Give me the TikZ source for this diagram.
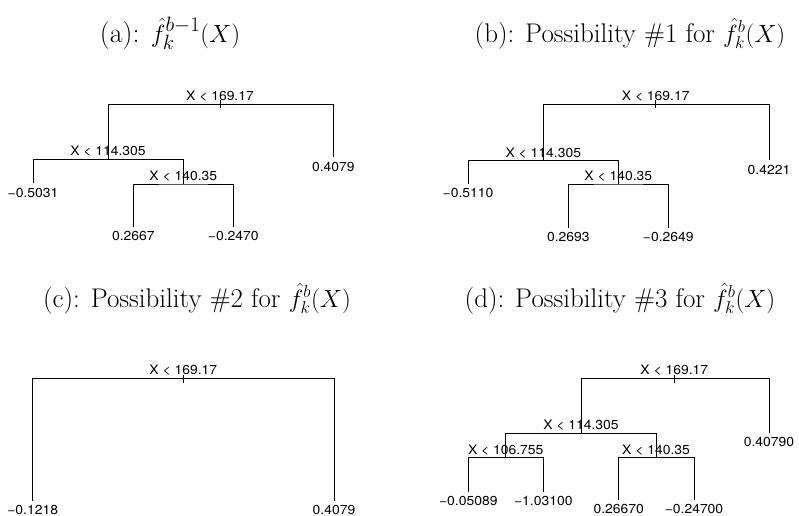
\documentclass[tikz,border=0pt]{standalone}
\usepackage{fontspec}
\newfontfamily\treefont[FakeStretch=1.07]{TeX Gyre Heros}
\begin{document}
\begin{tikzpicture}[x=1pt,y=-1pt,
  edge/.style={line width=0.9pt},
  lbl/.style={font=\treefont\fontsize{13}{15}\selectfont, inner sep=0pt, text height=9pt, text depth=0pt, anchor=center},
  ttl/.style={font=\fontsize{28}{32}\selectfont, inner sep=0pt, anchor=base},
  ttlp/.style={font=\fontsize{27}{31}\selectfont, inner sep=0pt, anchor=base}]
\useasboundingbox (0,0) rectangle (799,515);
% titles
\node[ttl] (ta) at (170,42) {(a): $\hat{f}_k^{b-1}(X)$};
\node[ttlp] (tb) at (630,42) {(b): Possibility \#1 for $\hat{f}_k^{b}(X)$};
\node[ttlp] (tc) at (197,307) {(c): Possibility \#2 for $\hat{f}_k^{b}(X)$};
\node[ttlp] (td) at (620,307) {(d): Possibility \#3 for $\hat{f}_k^{b}(X)$};
% ---------- panel (a)
\coordinate (a0) at (220,104.3);
\coordinate (a1) at (108,159.3);
\coordinate (a2) at (183.3,184);
\coordinate (aL1) at (33,183.3);
\coordinate (aL2) at (133.3,226.7);
\coordinate (aL3) at (233.3,226.7);
\coordinate (aL4) at (333.3,156.7);
\draw[edge] (a1) |- (a0) -| (aL4);
\draw[edge] (aL1) |- (a1) -| (a2);
\draw[edge] (aL2) |- (a2) -| (aL3);
\draw[edge] ([yshift=4pt]a0) -- ([yshift=-4pt]a0);
\node[lbl] (a0t) at ([yshift=8.5pt]a0) {X < 169.17};
\node[lbl] (a1t) at ([yshift=8pt]a1) {X < 114.305};
\node[lbl] (a2t) at ([yshift=8pt]a2) {X < 140.35};
\node[lbl] (aL1t) at ([yshift=-9.5pt]aL1) {−0.5031};
\node[lbl] (aL2t) at ([yshift=-9.5pt]aL2) {0.2667};
\node[lbl] (aL3t) at ([yshift=-9.5pt]aL3) {−0.2470};
\node[lbl] (aL4t) at ([yshift=-10pt]aL4) {0.4079};
% ---------- panel (b)
\coordinate (b0) at (655.7,104.3);
\coordinate (b1) at (543.3,160.7);
\coordinate (b2) at (618.3,184);
\coordinate (bL1) at (468,184);
\coordinate (bL2) at (568.3,227.7);
\coordinate (bL3) at (668.3,227.7);
\coordinate (bL4) at (769,160);
\draw[edge] (b1) |- (b0) -| (bL4);
\draw[edge] (bL1) |- (b1) -| (b2);
\draw[edge] (bL2) |- (b2) -| (bL3);
\draw[edge] ([yshift=4pt]b0) -- ([yshift=-4pt]b0);
\node[lbl] (b0t) at ([yshift=8.5pt]b0) {X < 169.17};
\node[lbl] (b1t) at ([yshift=8pt]b1) {X < 114.305};
\node[lbl] (b2t) at ([yshift=8pt]b2) {X < 140.35};
\node[lbl] (bL1t) at ([yshift=-9pt]bL1) {−0.5110};
\node[lbl] (bL2t) at ([yshift=-9pt]bL2) {0.2693};
\node[lbl] (bL3t) at ([yshift=-9pt]bL3) {−0.2649};
\node[lbl] (bL4t) at ([yshift=-9.5pt]bL4) {0.4221};
% ---------- panel (c)
\coordinate (c0) at (183.3,378.7);
\coordinate (cL1) at (32.7,501);
\coordinate (cL2) at (334,501);
\draw[edge] (cL1) |- (c0) -| (cL2);
\draw[edge] ([yshift=4pt]c0) -- ([yshift=-4pt]c0);
\node[lbl] (c0t) at ([yshift=8.5pt]c0) {X < 169.17};
\node[lbl] (cL1t) at ([yshift=-8.5pt]cL1) {−0.1218};
\node[lbl] (cL2t) at ([yshift=-8.5pt]cL2) {0.4079};
% ---------- panel (d)
\coordinate (d0) at (674.3,378.7);
\coordinate (d1) at (581,433.7);
\coordinate (d2) at (505.7,457.7);
\coordinate (d3) at (656,457.7);
\coordinate (dL1) at (468.3,491.7);
\coordinate (dL2) at (543.3,491.7);
\coordinate (dL3) at (618.7,500);
\coordinate (dL4) at (694,500);
\coordinate (dL5) at (769,433.3);
\draw[edge] (d1) |- (d0) -| (dL5);
\draw[edge] (d2) |- (d1) -| (d3);
\draw[edge] (dL1) |- (d2) -| (dL2);
\draw[edge] (dL3) |- (d3) -| (dL4);
\draw[edge] ([yshift=4pt]d0) -- ([yshift=-4pt]d0);
\node[lbl] (d0t) at ([yshift=8.5pt]d0) {X < 169.17};
\node[lbl] (d1t) at ([yshift=8.3pt]d1) {X < 114.305};
\node[lbl] (d2t) at ([yshift=7.7pt]d2) {X < 106.755};
\node[lbl] (d3t) at ([yshift=7.7pt]d3) {X < 140.35};
\node[lbl] (dL1t) at ([yshift=-9pt]dL1) {−0.05089};
\node[lbl] (dL2t) at ([yshift=-9pt]dL2) {−1.03100};
\node[lbl] (dL3t) at ([yshift=-9pt]dL3) {0.26670};
\node[lbl] (dL4t) at ([yshift=-9pt]dL4) {−0.24700};
\node[lbl] (dL5t) at ([yshift=-8.7pt]dL5) {0.40790};
\end{tikzpicture}
\end{document}
